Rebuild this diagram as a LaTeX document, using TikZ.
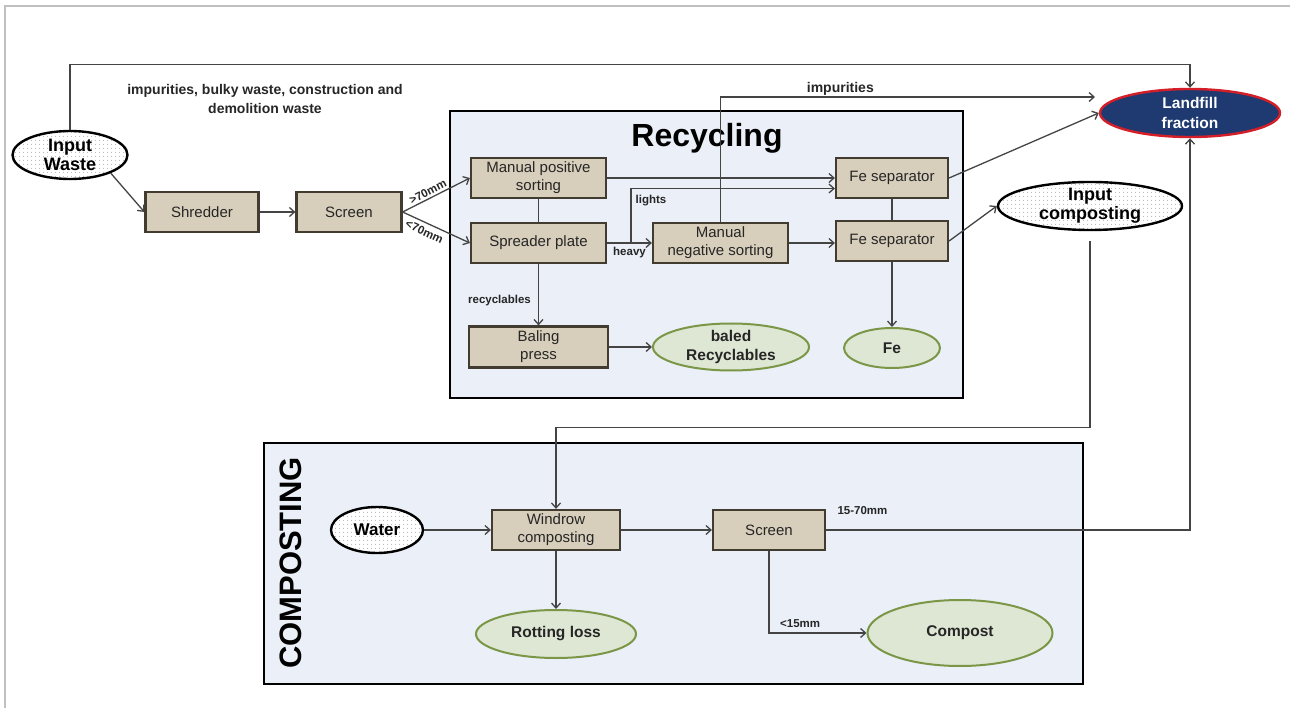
\documentclass[tikz,border=0pt]{standalone}
\usepackage{fontspec}
\setmainfont{Liberation Sans}
\usepackage{xcolor}
\usepackage{tikz}
\usetikzlibrary{shapes.geometric, arrows.meta, positioning, patterns.meta}
\definecolor{boxfill}{RGB}{215,206,187}
\definecolor{boxline}{RGB}{66,60,48}
\definecolor{panelfill}{RGB}{235,240,248}
\definecolor{prodfill}{RGB}{222,231,212}
\definecolor{prodline}{RGB}{122,150,70}
\definecolor{landnavy}{RGB}{30,58,112}
\definecolor{landred}{RGB}{212,30,40}
\definecolor{flowgray}{RGB}{68,68,68}
\definecolor{framegray}{RGB}{192,192,192}

\begin{document}
\begin{tikzpicture}[
    x=1pt, y=-1pt,
    proc/.style={rectangle, draw=boxline, fill=boxfill, line width=2.2pt, minimum width=112pt, minimum height=40pt, inner sep=1pt, align=center, text=black!85, font=\fontsize{15}{18}\selectfont},
    inflow/.style={ellipse, draw=black, line width=2.4pt, preaction={fill=white}, pattern={Dots[distance=4pt, radius=0.6pt]}, pattern color=black!40, inner xsep=0pt, inner ysep=-3pt, align=center, font=\bfseries\fontsize{18}{19}\selectfont},
    product/.style={ellipse, draw=prodline, fill=prodfill, line width=2pt, inner xsep=0pt, inner ysep=-3pt, align=center, text=black!85, font=\bfseries\fontsize{15.5}{19}\selectfont},
    panel/.style={draw=black, fill=panelfill, line width=2.4pt},
    arrow/.style={draw=flowgray, line width=1.3pt, -{Straight Barb[length=5pt, width=9pt]}},
    link/.style={draw=flowgray, line width=1.3pt},
    tag/.style={inner sep=1pt, text=black!85, font=\bfseries\fontsize{11.5}{13}\selectfont}
  ]
  \useasboundingbox (0,0) rectangle (1290,708);
  \draw[framegray, line width=2pt] (5,708) -- (5,6) -- (1290,6);

  % Panels
  \draw[panel] (450,111) rectangle (963,398);
  \draw[panel] (264,443) rectangle (1083,684);
  \node[font=\bfseries\fontsize{32}{34}\selectfont] (rectitle) at (707,138) {Recycling};
  \node[rotate=90, font=\bfseries\fontsize{31}{33}\selectfont] (comptitle) at (291,563) {COMPOSTING};

  % Pre-treatment
  \node[inflow, minimum width=115pt, minimum height=48pt] (inwaste) at (70,155) {Input\\Waste};
  \node[proc, minimum width=113pt] (shred) at (202,212) {Shredder};
  \node[proc, minimum width=105pt] (scrA) at (349,212) {Screen};

  % Recycling
  \node[proc, minimum width=135pt] (possort) at (538.5,178) {Manual positive\\sorting};
  \node[proc, minimum width=135pt] (spread) at (538.5,243) {Spreader plate};
  \node[proc, minimum width=135pt] (negsort) at (720.5,243) {Manual\\negative sorting};
  \node[proc] (feA) at (892,178) {Fe separator};
  \node[proc] (feB) at (892,241) {Fe separator};
  \node[proc, minimum width=139pt, minimum height=41pt] (bale) at (538.5,347) {Baling\\press};
  \node[product, minimum width=156pt, minimum height=47pt] (baled) at (731,347) {baled\\Recyclables};
  \node[product, minimum width=96pt, minimum height=40pt] (feout) at (892,348) {Fe};

  % Outputs
  \node[ellipse, draw=landred, fill=landnavy, line width=2.4pt, inner xsep=0pt, inner ysep=-3pt, minimum width=180pt, minimum height=48pt, align=center, text=white, font=\bfseries\fontsize{15.5}{20}\selectfont] (landfill) at (1190,113) {Landfill\\fraction};
  \node[inflow, minimum width=184pt, minimum height=48pt] (incomp) at (1090,206) {Input\\composting};

  % Composting
  \node[inflow, minimum width=92pt, minimum height=46pt, font=\bfseries\fontsize{17}{19}\selectfont] (water) at (377,530) {Water};
  \node[proc, minimum width=128pt] (windrow) at (556,530) {Windrow\\composting};
  \node[proc] (scrB) at (769,530) {Screen};
  \node[product, minimum width=160pt, minimum height=48pt] (rotting) at (556,634) {Rotting loss};
  \node[product, minimum width=185pt, minimum height=66pt] (compost) at (960,633) {Compost};

  \coordinate (split) at (631,243);
  \coordinate (impend) at (1095,97);

  % Arrows
  \draw[arrow] (inwaste.north) -- ++(0,-65) -| (landfill.north);
  \node[tag, align=center, font=\bfseries\fontsize{14}{18}\selectfont] (bypass) at (265,99) {impurities, bulky waste, construction and\\demolition waste};
  \draw[arrow] (inwaste.-24) -- (shred.west);
  \draw[arrow] (shred) -- (scrA);
  \draw[arrow] (scrA.east) -- node[tag, sloped, above=1pt, pos=0.42] {>70mm} (possort.west);
  \draw[arrow] (scrA.east) -- node[tag, sloped, below=3pt, pos=0.38] {<70mm} (spread.west);
  \draw[link] (possort) -- (spread);
  \draw[arrow] (spread) -- node[tag, below=3pt, pos=0.5] {heavy} (negsort);
  \draw[arrow] (possort.east) -- (possort.east -| feA.west);
  \draw[arrow] (split) |- node[tag, pos=0.5, anchor=north west, xshift=3pt, yshift=-5pt] {lights} ([yshift=-10.5pt]feA.west);
  \draw[arrow] (negsort.north) |- node[tag, above, pos=0.66, font=\bfseries\fontsize{14}{15}\selectfont] {impurities} (impend);
  \draw[arrow] (negsort.east) -- (negsort.east -| feB.west);
  \draw[link] (feA) -- (feB);
  \draw[arrow] (feB) -- (feout);
  \draw[arrow] (feA.east) -- (landfill.west);
  \draw[arrow] (feB.east) -- (incomp.west);
  \draw[arrow] (spread) -- node[tag, left=6pt, pos=0.59] {recyclables} (bale);
  \draw[arrow] (bale) -- (baled);
  \draw[arrow] ([yshift=-10pt]incomp.south) -- ++(0,186) -| (windrow.north);
  \draw[arrow] (water) -- (windrow);
  \draw[arrow] (windrow) -- (scrB);
  \draw[arrow] (windrow) -- (rotting);
  \draw[arrow] (scrB.east) -| node[tag, above, pos=0.05, yshift=14pt] {15-70mm} (landfill.south);
  \draw[arrow] (scrB.south) |- node[tag, above=4pt, pos=0.66] {<15mm} (compost.west);

\end{tikzpicture}
\end{document}
